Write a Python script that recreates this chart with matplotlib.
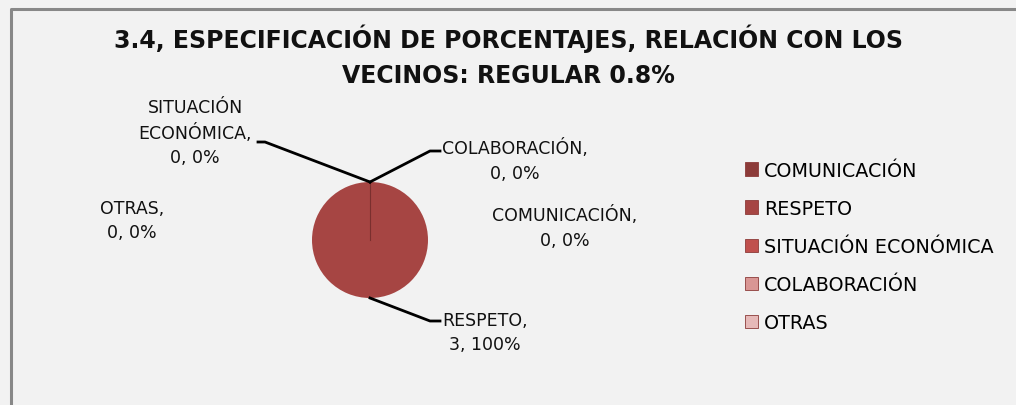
import numpy as np
import matplotlib
matplotlib.use("Agg")
import matplotlib.pyplot as plt
from matplotlib.patches import Patch

# ------------------------
# Data
# ------------------------
categories = ["COMUNICACIÓN", "RESPETO", "SITUACIÓN ECONÓMICA", "COLABORACIÓN", "OTRAS"]
values = [0, 3, 0, 0, 0]
colors = ["#8c3b39", "#a64543", "#c0504d", "#d99694", "#e6b9b8"]
label_names = ["COMUNICACIÓN,", "RESPETO,", "SITUACIÓN\nECONÓMICA,", "COLABORACIÓN,", "OTRAS,"]
title = "3.4, ESPECIFICACIÓN DE PORCENTAJES, RELACIÓN CON LOS\nVECINOS: REGULAR 0.8%"

plt.rcParams["font.family"] = ["DejaVu Sans"]

W, H = 1016, 406
fig = plt.figure(figsize=(W / 100, H / 100), dpi=100, facecolor="#f2f2f2")
ax = fig.add_axes([0, 0, 1, 1])


def py(y):
    # pixel row (from top) -> data y
    return H - y


# ------------------------
# Pie
# ------------------------
cx, cy, r = 370, py(241), 58
wedges, _ = ax.pie(values, colors=colors, startangle=90, counterclock=False,
                   radius=r, center=(cx, cy), frame=True,
                   wedgeprops=dict(linewidth=0))
ax.set_xlim(0, W)
ax.set_ylim(0, H)
ax.set_aspect("equal")
ax.axis("off")

# chart frame (top and left border of the copied chart)
ax.plot([10.5, 10.5, W], [0, py(9.5), py(9.5)], color="#888888", lw=2.2,
        solid_capstyle="butt", clip_on=False)

# boundary line of the full slice
th = np.deg2rad(wedges[1].theta2)
ax.plot([cx, cx + r * np.cos(th)], [cy, cy + r * np.sin(th)], color="#7a2f2e", lw=0.8)

# data labels with leader lines
label_pos = {  # text centre (px), leader path (px)
    0: ((565, 228), None),
    1: ((485, 333), [(430, 322), (440, 322)]),
    2: ((195, 133), [(265, 143), (258, 143)]),
    3: ((515, 161), [(430, 152), (440, 152)]),
    4: ((132, 221), None),
}
total = sum(values)
for i, w in enumerate(wedges):
    mid = np.deg2rad((w.theta1 + w.theta2) / 2)
    ax_pt = (cx + r * np.cos(mid), cy + r * np.sin(mid))
    (tx, ty), path = label_pos[i]
    pct = 100 * values[i] / total
    ax.text(tx, py(ty), f"{label_names[i]}\n{values[i]}, {pct:.0f}%", ha="center",
            va="center", fontsize=12.5, linespacing=1.45, color="#111111")
    if path:
        xs = [ax_pt[0]] + [p[0] for p in path]
        ys = [ax_pt[1]] + [py(p[1]) for p in path]
        ax.plot(xs, ys, color="black", lw=2)

# ------------------------
# Title and legend
# ------------------------
fig.text(0.5, 1 - 56 / H, title, ha="center", va="center", fontsize=17,
         fontweight="bold", linespacing=1.6, color="#111111")

handles = [Patch(facecolor=c, edgecolor="#8c3b39", lw=0.6) for c in colors]
ax.legend(handles, categories, loc="upper left", bbox_to_anchor=(735 / W, 1 - 152 / H),
          frameon=False, fontsize=13.8, handlelength=0.7, handleheight=0.7,
          handletextpad=0.3, labelspacing=1.0, borderpad=0)

fig.savefig("out.png", dpi=100, facecolor=fig.get_facecolor())
